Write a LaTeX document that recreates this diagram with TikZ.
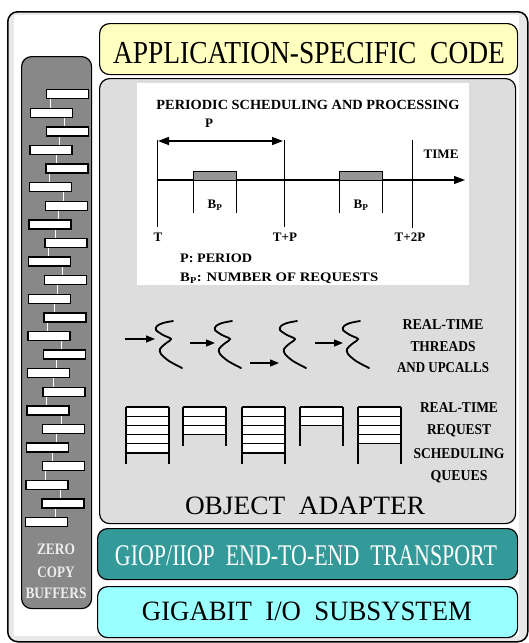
\documentclass[tikz,border=0pt]{standalone}
\usepackage{fontspec}
\usepackage{graphicx}
\setmainfont{Liberation Serif}
\usetikzlibrary{arrows.meta}
\definecolor{appyellow}{RGB}{255,255,192}
\definecolor{oagray}{RGB}{221,221,221}
\definecolor{giopteal}{RGB}{51,153,153}
\definecolor{gigacyan}{RGB}{153,255,255}
\definecolor{bufgray}{RGB}{136,136,136}
\definecolor{framegray}{RGB}{232,232,232}
\definecolor{hatch}{RGB}{150,150,150}
\newcommand{\fitw}[3]{{\fontsize{#2}{#2}\selectfont\resizebox{#1}{\height}{#3}}}
\tikzset{
  layer/.style={draw, line width=1.2pt, rounded corners=10pt, inner sep=0pt, anchor=north west},
  buf/.style={draw, fill=white, line width=1.4pt, minimum width=42pt, minimum height=9pt, inner sep=0pt, anchor=north west},
  link/.style={white, line width=1pt},
  lbl/.style={inner sep=0pt, font=\bfseries},
  axis/.style={line width=1.2pt},
  tick/.style={line width=1pt},
  thread/.style={line width=1.8pt, line cap=round},
  callarrow/.style={line width=1.4pt, -{Triangle[length=9pt,width=7pt]}},
  qline/.style={line width=1.2pt},
}
\begin{document}
\begin{tikzpicture}[x=1pt,y=-1pt]
\useasboundingbox (0,0) rectangle (529,643);
% outer frame
\node (frame) [draw, line width=1.5pt, rounded corners=10pt, fill=framegray, anchor=north west, minimum width=520pt, minimum height=630pt, inner sep=0pt] at (7,11) {};
\fill[white] (14,15) rectangle (519,636);
% layers
\node (app) [layer, fill=appyellow, minimum width=418pt, minimum height=51pt] at (99,23) {};
\node (apptext) [anchor=base, inner sep=0pt] at (309,63) {\fitw{392pt}{32pt}{APPLICATION-SPECIFIC\ \ CODE}};
\node (oa) [layer, fill=oagray, minimum width=416pt, minimum height=445pt] at (99,78) {};
\node (giop) [layer, fill=giopteal, minimum width=420pt, minimum height=51pt] at (97,528) {};
\node (gioptext) [anchor=base, inner sep=0pt, text=white] at (306,565) {\fitw{382pt}{30pt}{GIOP/IIOP\ \ END-TO-END\ \ TRANSPORT}};
\node (giga) [layer, fill=gigacyan, minimum width=420pt, minimum height=51pt] at (97,586) {};
\node (gigatext) [anchor=base, inner sep=0pt] at (307,620) {\fitw{330pt}{28pt}{GIGABIT\ \ I/O\ \ SUBSYSTEM}};
\node (oatext) [anchor=base, inner sep=0pt] at (305,514) {\fitw{240pt}{26.5pt}{OBJECT\ \ ADAPTER}};
% zero copy buffers column
\node (zc) [layer, fill=bufgray, minimum width=70pt, minimum height=552pt] at (21,56) {};
\foreach \i in {0,...,23} {
  \pgfmathsetmacro\yy{89+\i*18.6}
  \pgfmathsetmacro\xx{ifthenelse(mod(\i,2)==0,46,30)-\i*0.22}
  \coordinate (bc\i) at (\xx,\yy);
}
\foreach \i in {0,...,22} {
  \pgfmathtruncatemacro\j{\i+1}
  \pgfmathtruncatemacro\r{ifthenelse(mod(\i,2)==0,\i,\i+1)}
  \pgfmathsetmacro\lx{46-\r*0.22+{4,19,14,11}[mod(\i,4)]}
  \pgfmathsetmacro\ya{89+\i*18.6+9}
  \pgfmathsetmacro\yb{89+\j*18.6}
  \coordinate (lka\i) at (\lx,\ya);
  \coordinate (lkb\i) at (\lx,\yb);
  \draw[link] (lka\i) -- (lkb\i);
}
\foreach \i in {0,...,23} {
  \node (b\i) [buf] at (bc\i) {};
}
\node (zero) [lbl, anchor=base, text=white!93!black] at (56,554) {\fitw{38pt}{16pt}{ZERO}};
\node (copy) [lbl, anchor=base, text=white!93!black] at (56,577) {\fitw{37pt}{16pt}{COPY}};
\node (buffers) [lbl, anchor=base, text=white!93!black] at (56,598) {\fitw{61pt}{16pt}{BUFFERS}};
% periodic scheduling panel
\node (panel) [fill=white, anchor=north west, minimum width=332pt, minimum height=202pt, inner sep=0pt] at (137,83) {};
\node (title) [lbl] at (308,105) {\fitw{303pt}{14pt}{PERIODIC SCHEDULING AND PROCESSING}};
\coordinate (ax0) at (157,180);
\coordinate (ax1) at (465,180);
\draw[axis, -{Triangle[length=11pt,width=8pt]}] (ax0) -- (ax1);
\coordinate (t0a) at (157,140); \coordinate (t0b) at (157,227);
\coordinate (t1a) at (284,140); \coordinate (t1b) at (284,227);
\coordinate (t2a) at (412,140); \coordinate (t2b) at (412,228);
\draw[tick] (t0a) -- (t0b);
\draw[tick] (t1a) -- (t1b);
\draw[tick] (t2a) -- (t2b);
\coordinate (pa) at (158,141); \coordinate (pb) at (283,141);
\draw[line width=1.5pt, {Triangle[length=11pt,width=8pt]}-{Triangle[length=11pt,width=8pt]}] (pa) -- (pb);
\node (plbl) [lbl] at (209,123) {\fontsize{13pt}{13pt}\selectfont P};
% B_P boxes
\foreach \n/\a/\b in {1/193/236, 2/339/382} {
  \fill[hatch] (\a,171) rectangle (\b,180);
  \draw[tick] (\a,180) rectangle (\b,171);
  \draw[tick] (\a,180) -- (\a,213);
  \draw[tick] (\b,180) -- (\b,213);
}
\node (bp1) [lbl] at (215,205) {\fontsize{13pt}{13pt}\selectfont B$_{\mathbf{P}}$};
\node (bp2) [lbl] at (361,205) {\fontsize{13pt}{13pt}\selectfont B$_{\mathbf{P}}$};
\node (time) [lbl] at (441,154) {\fitw{35pt}{13pt}{TIME}};
\node (tl0) [lbl] at (158,237) {\fontsize{13pt}{13pt}\selectfont T};
\node (tl1) [lbl] at (285,237) {\fontsize{13pt}{13pt}\selectfont T+P};
\node (tl2) [lbl] at (410,237) {\fontsize{13pt}{13pt}\selectfont T+2P};
\node (pdef) [lbl, anchor=west] at (180,258) {\fitw{72pt}{13pt}{P: PERIOD}};
\node (bdef) [lbl, anchor=west] at (180,278) {\fitw{198pt}{13pt}{B$_{\mathbf{P}}$: NUMBER OF REQUESTS}};
% threads
\foreach \tx in {173,232,297,360} {
  \draw[thread, shift={(\tx,321)}] plot[smooth, tension=0.5] coordinates {(0,0) (-10,2) (-16,5) (-17,9) (-10,14) (-2,18) (-8,23) (-13,28) (-12,33) (-4,40) (9,47)};
}
\coordinate (a1s) at (125,339); \coordinate (a1e) at (155,339);
\coordinate (a2s) at (190,343); \coordinate (a2e) at (215,343);
\coordinate (a3s) at (250,363); \coordinate (a3e) at (279,363);
\coordinate (a4s) at (315,343); \coordinate (a4e) at (343,343);
\draw[callarrow] (a1s) -- (a1e);
\draw[callarrow] (a2s) -- (a2e);
\draw[callarrow] (a3s) -- (a3e);
\draw[callarrow] (a4s) -- (a4e);
\node (th1) [lbl] at (443,325) {\fitw{81pt}{15pt}{REAL-TIME}};
\node (th2) [lbl] at (443,347) {\fitw{65pt}{15pt}{THREADS}};
\node (th3) [lbl] at (443,368) {\fitw{92pt}{15pt}{AND UPCALLS}};
% queues
\foreach \qx/\qn/\qb in {126/6/464, 183/4/446, 242/6/464, 300/3/446, 358/5/464} {
  \pgfmathsetmacro\qlast{407+(\qn-1)*9.2}
  \fill[white] (\qx,407) rectangle (\qx+43,\qlast);
  \foreach \k in {1,...,\qn} {
    \draw[qline] (\qx,407+\k*9.2-9.2) -- (\qx+43,407+\k*9.2-9.2);
  }
  \draw[qline] (\qx,407) -- (\qx,\qb);
  \draw[qline] (\qx+43,407) -- (\qx+43,\qb);
}
\node (q1) [lbl] at (459,408) {\fitw{78pt}{15pt}{REAL-TIME}};
\node (q2) [lbl] at (459,431) {\fitw{64pt}{15pt}{REQUEST}};
\node (q3) [lbl] at (459,454) {\fitw{91pt}{15pt}{SCHEDULING}};
\node (q4) [lbl] at (459,477) {\fitw{57pt}{15pt}{QUEUES}};
\end{tikzpicture}
\end{document}
